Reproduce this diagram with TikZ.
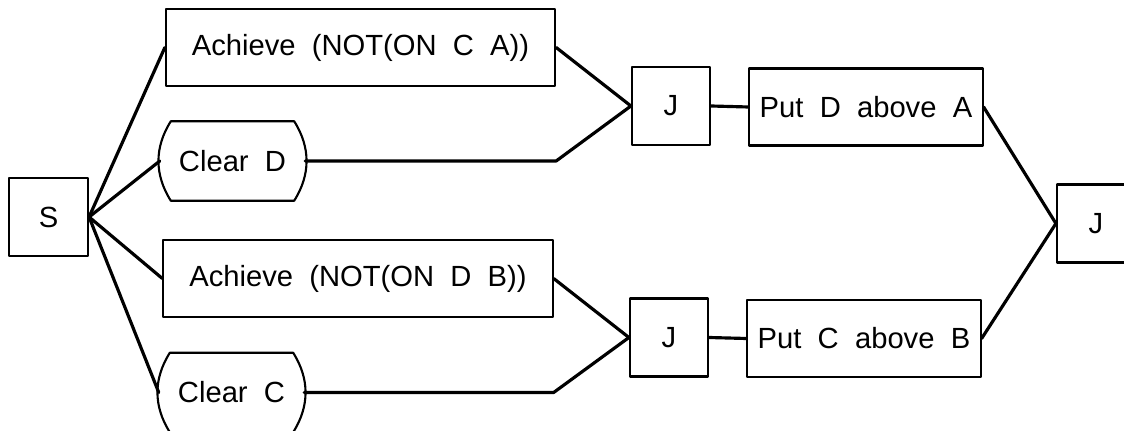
\documentclass[tikz,border=0pt]{standalone}
\usepackage{fontspec}
\setmainfont{Liberation Sans}[WordSpace=2]
\usetikzlibrary{calc}

\begin{document}
\begin{tikzpicture}[
    x=0.01cm,y=-0.01cm,
    line cap=round,
    line join=round,
    every node/.style={font=\fontsize{8.3}{10}\selectfont},
    box/.style={
        draw,
        line width=0.6pt,
        minimum height=0.77cm,
        inner sep=0pt
    },
    goalbox/.style={box,minimum width=3.89cm},
    joinbox/.style={box,minimum width=0.78cm,minimum height=0.78cm},
    putbox/.style={box,minimum width=2.33cm},
    clearbox/.style={
        minimum width=1.22cm,
        minimum height=0.78cm,
        inner sep=0pt
    },
    outline/.style={line width=0.6pt},
    link/.style={line width=0.9pt}
]

\useasboundingbox (0,0) rectangle (1124,431);
\clip (0,0) rectangle (1124,431);

% ============================================================
% clear boxes: straight top and bottom, bulging sides
% ============================================================

\newcommand{\ClearNode}[3]{%
    \node[clearbox] (#1) at #2 {#3};
    \draw[outline]
        (#1.north west) -- (#1.north east)
        to[bend left=32] (#1.south east) -- (#1.south west)
        to[bend left=32] (#1.north west);
    \coordinate (#1W) at ($(#1.west)+(-11,0)$);
    \coordinate (#1E) at ($(#1.east)+(11,0)$);
}

% ============================================================
% start
% ============================================================

\node[box,minimum width=0.79cm,minimum height=0.78cm] (s) at (48.5,217) {S};

% ============================================================
% upper branch
% ============================================================

\node[goalbox] (a1) at (360.5,47.5) {Achieve (NOT(ON C A))};
\ClearNode{cd}{(232.5,161)}{Clear D}

\node[joinbox] (j1) at (671,106) {J};
\node[putbox] (p1) at (866,107) {Put D above A};

% ============================================================
% lower branch
% ============================================================

\node[goalbox] (a2) at (358,278.5) {Achieve (NOT(ON D B))};
\ClearNode{cc}{(231.5,392.5)}{Clear C}

\node[joinbox] (j2) at (669,337.5) {J};
\node[putbox] (p2) at (864,338.5) {Put C above B};

% ============================================================
% final join
% ============================================================

\node[joinbox] (j3) at (1096,223.5) {J};

% ============================================================
% connectors
% ============================================================

\draw[link] (a1.west) -- (s.east) -- (a2.west);
\draw[link] (cdW) -- (s.east) -- (ccW);

\draw[link] (a1.east) -- (j1.west);
\draw[link] (cdE) -- (a1.east |- cdE) -- (j1.west);
\draw[link] (j1.east) -- (p1.west);

\draw[link] (a2.east) -- (j2.west);
\draw[link] (ccE) -- (a2.east |- ccE) -- (j2.west);
\draw[link] (j2.east) -- (p2.west);

\draw[link] (p1.east) -- (j3.west) -- (p2.east);

\end{tikzpicture}
\end{document}
